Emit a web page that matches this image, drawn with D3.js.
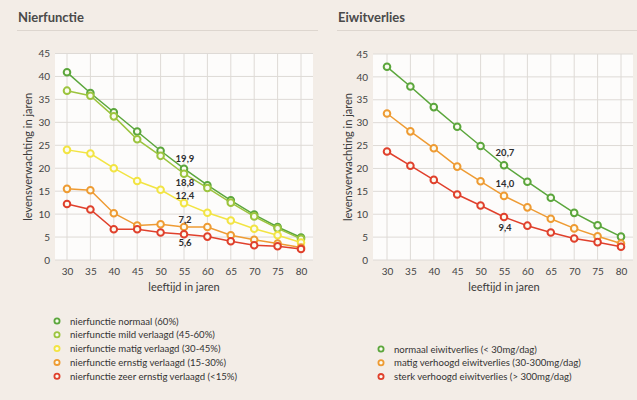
<!DOCTYPE html>
<html>
<head>
<meta charset="utf-8">
<script src="https://cdn.jsdelivr.net/npm/d3@7"></script>
<style>
  html, body { margin: 0; padding: 0; background: #f3ede7; }
  svg { display: block; }
  text { font-family: Lato, "Open Sans", sans-serif; }
</style>
</head>
<body>
<svg id="chart" width="637" height="400"></svg>
<script>
// ---------- DATA ----------
const ages = [30, 35, 40, 45, 50, 55, 60, 65, 70, 75, 80];
const yTicks = [0, 5, 10, 15, 20, 25, 30, 35, 40, 45];

const nierNames = [
  "nierfunctie normaal (60%)",
  "nierfunctie mild verlaagd (45-60%)",
  "nierfunctie matig verlaagd (30-45%)",
  "nierfunctie ernstig verlaagd (15-30%)",
  "nierfunctie zeer ernstig verlaagd (<15%)"
];
const nierNormaal   = [40.9, 36.4, 32.2, 28.0, 23.8, 19.9, 16.3, 13.0, 9.9, 7.2, 4.9];
const nierMild      = [36.9, 35.8, 31.3, 26.3, 22.7, 18.8, 15.7, 12.5, 9.5, 6.9, 4.6];
const nierMatig     = [24.0, 23.2, 20.0, 17.2, 15.3, 12.4, 10.3, 8.6, 6.8, 5.4, 3.8];
const nierErnstig   = [15.5, 15.2, 10.2, 7.5, 7.8, 7.2, 7.2, 5.4, 4.4, 3.6, 2.7];
const nierZeer      = [12.2, 11.0, 6.7, 6.7, 6.0, 5.6, 5.1, 4.1, 3.2, 3.0, 2.4];
const nierLabels    = ["19,9", "18,8", "12,4", "7,2", "5,6"];

const eiwitNames = [
  "normaal eiwitverlies (< 30mg/dag)",
  "matig verhoogd eiwitverlies (30-300mg/dag)",
  "sterk verhoogd eiwitverlies (> 300mg/dag)"
];
const eiwitNormaal  = [42.2, 37.9, 33.4, 29.1, 24.9, 20.7, 17.1, 13.6, 10.3, 7.6, 5.1];
const eiwitMatig    = [32.0, 28.1, 24.4, 20.4, 17.2, 14.0, 11.5, 9.0, 6.9, 5.2, 3.6];
const eiwitSterk    = [23.7, 20.6, 17.5, 14.3, 11.9, 9.4, 7.5, 6.0, 4.7, 3.9, 2.9];
const eiwitLabels   = ["20,7", "14,0", "9,4"];

const labelAge = 55;

// ---------- STYLE ----------
const cGreen = "#5ba63c", cLightGreen = "#9cc43e", cYellow = "#f2e443",
      cOrange = "#ee9b33", cRed = "#e0402c";
const nierColors = [cGreen, cLightGreen, cYellow, cOrange, cRed];
const eiwitColors = [cGreen, cOrange, cRed];
// vertical offset (px) of each value label's centre relative to its point
const nierLabelDy = [-10.5, 8.5, -7.5, -7, 8.5];
const eiwitLabelDy = [-13, -12.5, 11];

const svg = d3.select("#chart");

function panel(opts) {
  const g = svg.append("g");
  // title
  g.append("text").attr("x", opts.titleX).attr("y", 22)
    .attr("font-size", 13).attr("font-weight", 700).attr("fill", "#4a4a4a")
    .text(opts.title);
  g.append("line").attr("x1", opts.titleX - 1).attr("x2", opts.lineEnd)
    .attr("y1", 30.5).attr("y2", 30.5).attr("stroke", "#ddd6cf").attr("stroke-width", 1);

  const x = d3.scaleLinear().domain([30, 80]).range(opts.xRange);
  const y = d3.scaleLinear().domain([0, 45]).range([260, opts.yTop]);

  // plot background
  g.append("rect").attr("x", opts.plotLeft).attr("y", y(45))
    .attr("width", opts.plotRight - opts.plotLeft).attr("height", y(0) - y(45))
    .attr("fill", "#fdfcfb");

  // grid
  g.append("g").selectAll("line.h").data(yTicks).join("line")
    .attr("x1", opts.plotLeft).attr("x2", opts.plotRight)
    .attr("y1", d => y(d)).attr("y2", d => y(d))
    .attr("stroke", "#dedad6").attr("stroke-width", 1);
  g.append("g").selectAll("line.v").data(ages).join("line")
    .attr("x1", d => x(d)).attr("x2", d => x(d))
    .attr("y1", y(45)).attr("y2", y(0))
    .attr("stroke", "#dedad6").attr("stroke-width", 1);

  // axes (D3 axes, domain removed)
  const ya = g.append("g").attr("transform", `translate(${opts.plotLeft},0)`)
    .call(d3.axisLeft(y).tickValues(yTicks).tickSize(0).tickPadding(5));
  ya.select(".domain").remove();
  ya.selectAll("text").attr("font-family", "Lato, 'Open Sans', sans-serif")
    .attr("font-size", 10).attr("fill", "#444");
  const xa = g.append("g").attr("transform", `translate(0,${y(0)})`)
    .call(d3.axisBottom(x).tickValues(ages).tickSize(0).tickPadding(8));
  xa.select(".domain").remove();
  xa.selectAll("text").attr("font-family", "Lato, 'Open Sans', sans-serif")
    .attr("font-size", 10).attr("fill", "#444");

  // axis titles
  g.append("text").attr("transform", `translate(${opts.yLabelX},${(y(0) + y(45)) / 2}) rotate(-90)`)
    .attr("text-anchor", "middle").attr("font-size", 11).attr("fill", "#3a3a3a")
    .text("levensverwachting in jaren");
  g.append("text").attr("x", (x(30) + x(80)) / 2).attr("y", 291)
    .attr("text-anchor", "middle").attr("font-size", 11).attr("fill", "#3a3a3a")
    .text("leeftijd in jaren");

  // series
  const line = d3.line().x((d, i) => x(ages[i])).y(d => y(d));
  opts.series.forEach((vals, si) => {
    const col = opts.colors[si];
    g.append("path").datum(vals).attr("d", line).attr("fill", "none")
      .attr("stroke", col).attr("stroke-width", 1.5);
    g.append("g").selectAll("circle").data(vals).join("circle")
      .attr("cx", (d, i) => x(ages[i])).attr("cy", d => y(d)).attr("r", 3.3)
      .attr("fill", "#fbfbf0").attr("stroke", col).attr("stroke-width", 2);
  });

  // value labels at age 55
  const idx = ages.indexOf(labelAge);
  opts.series.forEach((vals, si) => {
    g.append("text").attr("x", x(labelAge) + 1)
      .attr("y", y(vals[idx]) + opts.labelDy[si] + 3.5)
      .attr("text-anchor", "middle").attr("font-size", 9.5).attr("font-weight", 700)
      .attr("fill", "#2e2e2e").text(opts.labels[si]);
  });

  // legend
  opts.names.forEach((name, si) => {
    const ly = opts.legendY + si * 13.8;
    g.append("circle").attr("cx", opts.legendX).attr("cy", ly).attr("r", 2.6)
      .attr("fill", "#fbfbf0").attr("stroke", opts.colors[si]).attr("stroke-width", 1.8);
    g.append("text").attr("x", opts.legendX + 13).attr("y", ly + 3.5)
      .attr("font-size", 9.6).attr("fill", "#333").text(name);
  });
}

panel({
  title: "Nierfunctie", titleX: 18, lineEnd: 318,
  xRange: [67, 301], yTop: 53.5, plotLeft: 55, plotRight: 313,
  yLabelX: 32,
  series: [nierNormaal, nierMild, nierMatig, nierErnstig, nierZeer],
  colors: nierColors, labels: nierLabels, labelDy: nierLabelDy,
  names: nierNames, legendX: 57, legendY: 321
});

panel({
  title: "Eiwitverlies", titleX: 338, lineEnd: 637,
  xRange: [387, 621], yTop: 54, plotLeft: 373, plotRight: 633,
  yLabelX: 352,
  series: [eiwitNormaal, eiwitMatig, eiwitSterk],
  colors: eiwitColors, labels: eiwitLabels, labelDy: eiwitLabelDy,
  names: eiwitNames, legendX: 381, legendY: 349
});
</script>
</body>
</html>
